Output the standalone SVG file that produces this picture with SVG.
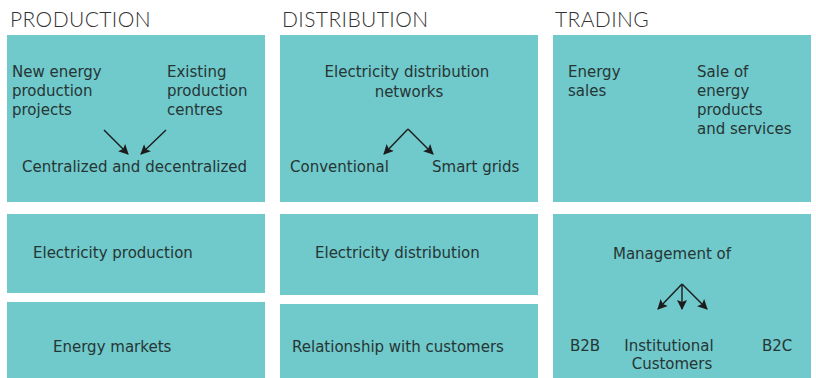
<svg xmlns="http://www.w3.org/2000/svg" width="816" height="378" viewBox="0 0 816 378">
  <defs>
    <style>
      .box { fill: #70c9ca; }
      .head { font-family: "DejaVu Sans ExtraLight", "Lato", "DejaVu Sans", sans-serif; font-weight: 300; font-size: 21px; letter-spacing: 0.4px; fill: #333333; }
      .lbl { font-family: "DejaVu Sans", "Liberation Sans", sans-serif; font-size: 15px; fill: #263535; }
      .arrow { stroke: #1c1c1c; stroke-width: 1.4; fill: none; marker-end: url(#tip); }
    </style>
    <marker id="tip" viewBox="0 0 10 10" refX="9" refY="5" markerWidth="12" markerHeight="10" orient="auto" markerUnits="userSpaceOnUse">
      <path d="M0,0 L10,5 L0,10 L2,5 z" fill="#1c1c1c"/>
    </marker>
  </defs>
  <rect width="816" height="378" fill="#ffffff"/>

  <!-- column headings -->
  <g id="headings">
    <text class="head" x="10" y="27">PRODUCTION</text>
    <text class="head" x="282" y="27">DISTRIBUTION</text>
    <text class="head" x="555" y="27">TRADING</text>
  </g>

  <!-- production column -->
  <g id="prod-sources">
    <rect class="box" x="7" y="35" width="258" height="167"/>
    <text class="lbl" x="12" y="77">New energy</text>
    <text class="lbl" x="12" y="96">production</text>
    <text class="lbl" x="12" y="115">projects</text>
    <text class="lbl" x="167" y="77">Existing</text>
    <text class="lbl" x="167" y="96">production</text>
    <text class="lbl" x="167" y="115">centres</text>
    <text class="lbl" x="22" y="172">Centralized and decentralized</text>
  </g>
  <g id="prod-electricity">
    <rect class="box" x="7" y="214" width="258" height="79"/>
    <text class="lbl" x="33" y="258">Electricity production</text>
  </g>
  <g id="prod-markets">
    <rect class="box" x="7" y="302" width="258" height="76"/>
    <text class="lbl" x="53" y="352">Energy markets</text>
  </g>

  <!-- distribution column -->
  <g id="dist-networks">
    <rect class="box" x="280" y="35" width="258" height="167"/>
    <text class="lbl" x="407" y="77" text-anchor="middle">Electricity distribution</text>
    <text class="lbl" x="409" y="97" text-anchor="middle">networks</text>
    <text class="lbl" x="290" y="172">Conventional</text>
    <text class="lbl" x="432" y="172">Smart grids</text>
  </g>
  <g id="dist-electricity">
    <rect class="box" x="280" y="214" width="258" height="81"/>
    <text class="lbl" x="315" y="258">Electricity distribution</text>
  </g>
  <g id="dist-customers">
    <rect class="box" x="280" y="304" width="258" height="74"/>
    <text class="lbl" x="292" y="352">Relationship with customers</text>
  </g>

  <!-- trading column -->
  <g id="trade-sales">
    <rect class="box" x="553" y="35" width="258" height="167"/>
    <text class="lbl" x="568" y="77">Energy</text>
    <text class="lbl" x="568" y="96">sales</text>
    <text class="lbl" x="697" y="77">Sale of</text>
    <text class="lbl" x="697" y="96">energy</text>
    <text class="lbl" x="697" y="115">products</text>
    <text class="lbl" x="697" y="134">and services</text>
  </g>
  <g id="trade-management">
    <rect class="box" x="553" y="214" width="258" height="164"/>
    <text class="lbl" x="672" y="259" text-anchor="middle">Management of</text>
    <text class="lbl" x="570" y="351">B2B</text>
    <text class="lbl" x="669" y="351" text-anchor="middle">Institutional</text>
    <text class="lbl" x="672" y="369" text-anchor="middle">Customers</text>
    <text class="lbl" x="762" y="351">B2C</text>
  </g>

  <!-- connectors -->
  <g id="connectors">
    <line class="arrow" x1="104" y1="130" x2="128" y2="154"/>
    <line class="arrow" x1="166" y1="130" x2="141" y2="154"/>
    <line class="arrow" x1="408" y1="129" x2="384" y2="154"/>
    <line class="arrow" x1="408" y1="129" x2="433" y2="154"/>
    <line class="arrow" x1="682" y1="284" x2="658" y2="309"/>
    <line class="arrow" x1="682" y1="284" x2="682" y2="309"/>
    <line class="arrow" x1="682" y1="284" x2="707" y2="309"/>
  </g>
</svg>
